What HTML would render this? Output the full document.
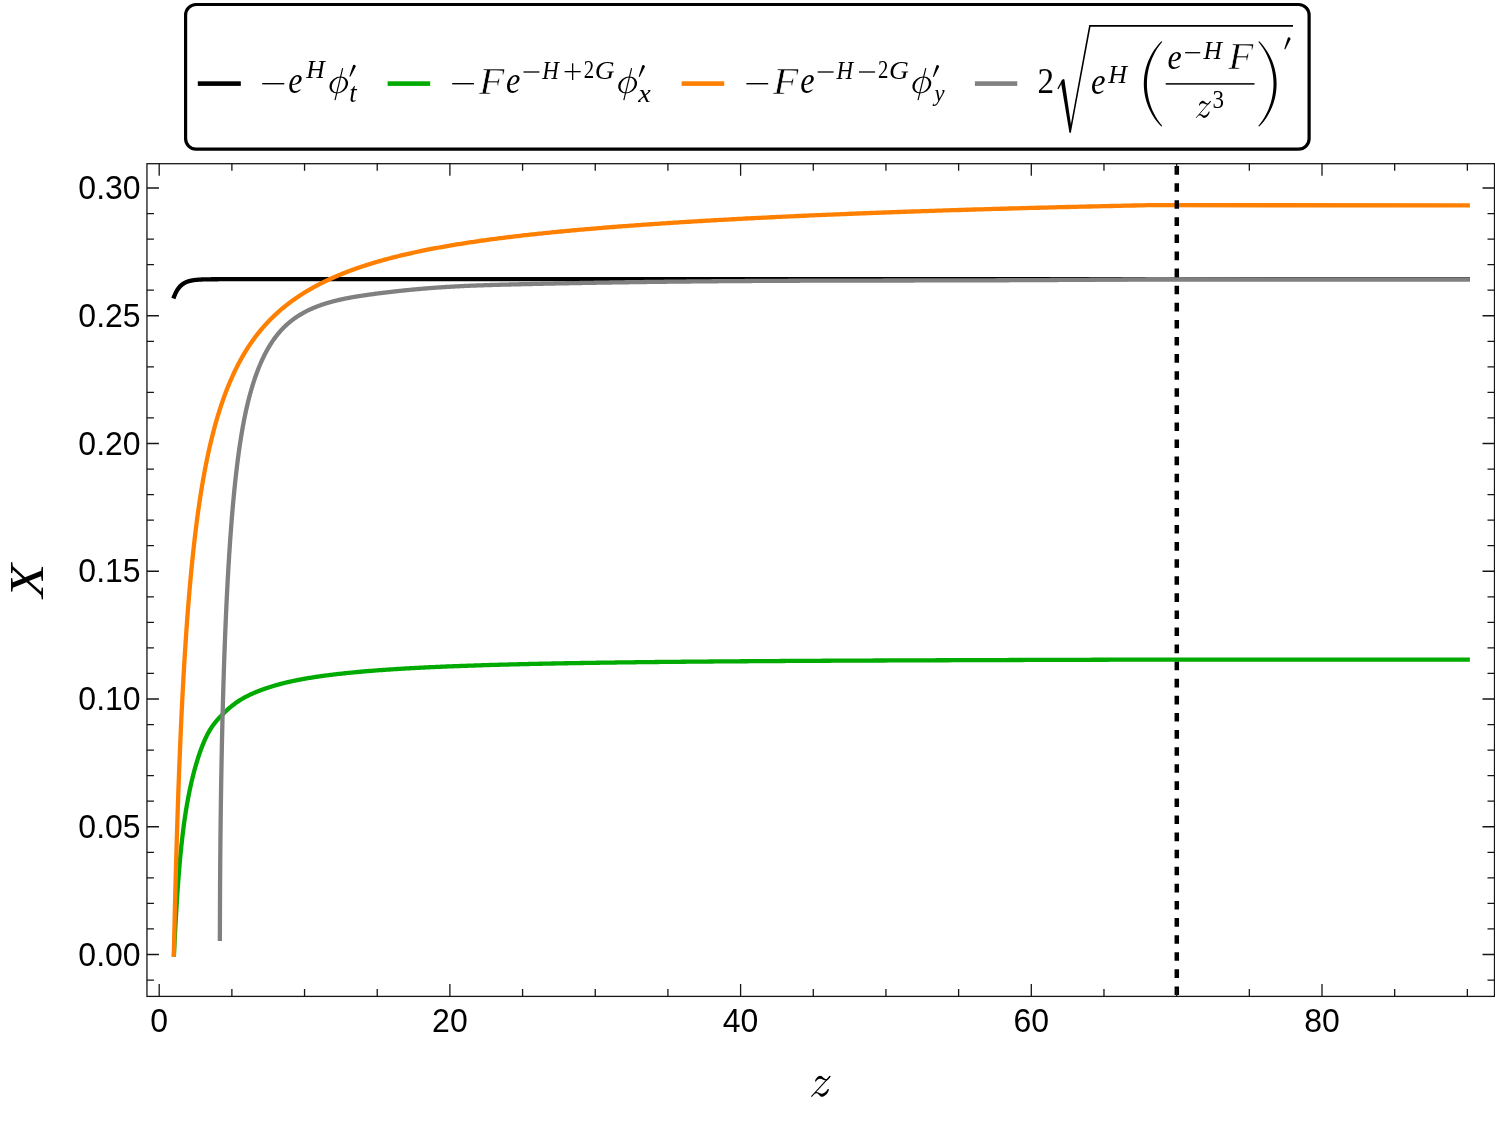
<!DOCTYPE html>
<html><head><meta charset="utf-8"><title>plot</title>
<style>
html,body{margin:0;padding:0;background:#fff;}
body{width:1495px;height:1121px;position:relative;overflow:hidden;font-family:"Liberation Sans",sans-serif;}
</style></head><body>
<svg width="1495" height="1121" viewBox="0 0 1495 1121" style="position:absolute;left:0;top:0;will-change:transform">
<rect x="0" y="0" width="1495" height="1121" fill="#fff"/>
<g fill="none" stroke-width="4.3" stroke-linejoin="round" stroke-linecap="butt">
<path d="M173.40,298.40 L173.84,297.21 L174.27,296.09 L174.71,295.05 L175.14,294.06 L175.58,293.14 L176.01,292.28 L176.45,291.47 L176.88,290.71 L177.32,289.99 L177.75,289.32 L178.19,288.70 L178.62,288.11 L179.06,287.56 L179.49,287.04 L179.93,286.55 L180.36,286.10 L180.80,285.67 L181.23,285.27 L181.67,284.89 L182.10,284.54 L182.54,284.21 L182.97,283.90 L183.41,283.61 L183.84,283.33 L184.28,283.08 L184.71,282.84 L185.15,282.61 L185.58,282.40 L186.02,282.20 L186.46,282.02 L186.89,281.84 L187.33,281.68 L187.76,281.52 L188.20,281.38 L188.63,281.24 L189.07,281.12 L189.50,281.00 L189.94,280.89 L190.37,280.78 L190.81,280.68 L191.24,280.59 L191.68,280.51 L192.11,280.43 L192.55,280.35 L192.98,280.28 L193.42,280.21 L193.85,280.15 L194.29,280.09 L194.72,280.03 L195.16,279.98 L195.59,279.93 L196.03,279.89 L196.46,279.85 L196.90,279.81 L197.33,279.77 L197.77,279.73 L198.21,279.70 L198.64,279.67 L199.08,279.64 L199.51,279.61 L199.95,279.59 L200.38,279.56 L200.82,279.54 L201.25,279.52 L201.69,279.50 L202.12,279.48 L202.56,279.46 L202.99,279.45 L203.43,279.43 L203.86,279.42 L204.30,279.40 L204.73,279.39 L205.17,279.38 L205.60,279.37 L206.04,279.36 L206.47,279.35 L206.91,279.34 L207.34,279.33 L207.78,279.32 L208.21,279.31 L208.65,279.31 L209.08,279.30 L209.52,279.29 L209.95,279.29 L210.39,279.28 L210.83,279.28 L211.26,279.27 L211.70,279.27 L212.13,279.26 L212.57,279.26 L213.00,279.26 L213.44,279.25 L213.87,279.25 L214.31,279.25 L214.74,279.24 L215.18,279.24 L215.61,279.24 L216.05,279.24 L216.48,279.23 L216.92,279.23 L217.35,279.23 L217.79,279.23 L218.22,279.23 L218.66,279.22 L219.09,279.22 L219.53,279.22 L219.96,279.22 L220.40,279.22 L220.83,279.22 L221.27,279.22 L221.70,279.22 L222.14,279.21 L222.57,279.21 L223.01,279.21 L223.45,279.21 L223.88,279.21 L224.32,279.21 L224.75,279.21 L225.19,279.21 L225.62,279.21 L226.06,279.21 L226.49,279.21 L226.93,279.21 L227.36,279.21 L227.80,279.21 L228.23,279.21 L228.67,279.21 L229.10,279.21 L229.54,279.20 L229.97,279.20 L230.41,279.20 L230.84,279.20 L231.28,279.20 L231.71,279.20 L232.15,279.20 L232.58,279.20 L233.02,279.20 L233.45,279.20 L233.89,279.20 L234.32,279.20 L234.76,279.20 L235.19,279.20 L235.63,279.20 L236.07,279.20 L236.50,279.20 L236.94,279.20 L237.37,279.20 L237.81,279.20 L238.24,279.20 L238.68,279.20 L239.11,279.20 L239.55,279.20 L239.98,279.20 L240.42,279.20 L240.85,279.20 L241.29,279.20 L241.72,279.20 L242.16,279.20 L242.59,279.20 L243.03,279.20 L243.46,279.20 L243.90,279.20 L244.33,279.20 L244.77,279.20 L245.20,279.20 L245.64,279.20 L246.07,279.20 L246.51,279.20 L246.94,279.20 L247.38,279.20 L247.82,279.20 L248.25,279.20 L248.69,279.20 L249.12,279.20 L249.56,279.20 L249.99,279.20 L250.43,279.20 L250.86,279.20 L251.30,279.20 L251.73,279.20 L252.17,279.20 L252.60,279.20 L253.04,279.20 L253.47,279.20 L253.91,279.20 L254.34,279.20 L254.78,279.20 L255.21,279.20 L255.65,279.20 L256.08,279.20 L256.52,279.20 L256.95,279.20 L257.39,279.20 L257.82,279.20 L258.26,279.20 L258.69,279.20 L259.13,279.20 L259.56,279.20 L260.00,279.20 L1469.90,279.20" stroke="#000"/>
<path d="M173.89,956.60 L173.96,955.17 L174.03,953.65 L174.10,952.13 L174.17,950.62 L174.24,949.12 L174.31,947.62 L174.38,946.13 L174.46,944.65 L174.53,943.17 L174.60,941.69 L174.67,940.23 L174.74,938.76 L174.82,937.31 L174.89,935.86 L174.96,934.42 L175.04,932.98 L175.11,931.55 L175.19,930.12 L175.26,928.70 L175.34,927.29 L175.41,925.88 L175.49,924.48 L175.57,923.09 L175.64,921.70 L175.72,920.32 L175.80,918.94 L175.87,917.57 L175.95,916.21 L176.03,914.85 L176.11,913.50 L176.19,912.15 L176.27,910.82 L176.35,909.48 L176.43,908.16 L176.51,906.83 L176.59,905.52 L176.67,904.21 L176.76,902.91 L176.84,901.61 L176.92,900.32 L177.00,899.04 L177.09,897.76 L177.17,896.49 L177.26,895.23 L177.34,893.97 L177.43,892.72 L177.51,891.47 L177.60,890.23 L177.68,889.00 L177.77,887.77 L177.86,886.55 L177.94,885.33 L178.03,884.13 L178.12,882.92 L178.21,881.73 L178.30,880.54 L178.39,879.36 L178.48,878.18 L178.57,877.01 L178.66,875.84 L178.75,874.69 L178.84,873.53 L178.94,872.39 L179.03,871.25 L179.12,870.12 L179.21,868.99 L179.31,867.87 L179.40,866.76 L179.50,865.65 L179.59,864.55 L179.69,863.45 L179.78,862.37 L179.88,861.29 L179.98,860.21 L180.08,859.14 L180.17,858.08 L180.27,857.02 L180.37,855.97 L180.47,854.93 L180.57,853.89 L180.67,852.86 L180.77,851.84 L180.87,850.82 L180.97,849.81 L181.08,848.80 L181.18,847.80 L181.28,846.80 L181.39,845.82 L181.49,844.83 L181.59,843.86 L181.70,842.89 L181.81,841.92 L181.91,840.96 L182.02,840.01 L182.12,839.06 L182.23,838.12 L182.34,837.18 L182.45,836.25 L182.56,835.32 L182.67,834.40 L182.78,833.48 L182.89,832.57 L183.00,831.67 L183.11,830.77 L183.22,829.87 L183.34,828.99 L183.45,828.10 L183.56,827.22 L183.68,826.35 L183.79,825.48 L183.91,824.61 L184.02,823.76 L184.14,822.90 L184.26,822.05 L184.37,821.21 L184.49,820.37 L184.61,819.53 L184.73,818.70 L184.85,817.87 L184.97,817.05 L185.09,816.24 L185.21,815.42 L185.34,814.61 L185.46,813.81 L185.58,813.01 L185.71,812.22 L185.83,811.43 L185.95,810.64 L186.08,809.86 L186.21,809.08 L186.33,808.30 L186.46,807.53 L186.59,806.77 L186.72,806.01 L186.85,805.25 L186.98,804.49 L187.11,803.74 L187.24,803.00 L187.37,802.25 L187.50,801.51 L187.63,800.78 L187.77,800.05 L187.90,799.32 L188.04,798.59 L188.17,797.87 L188.31,797.15 L188.44,796.44 L188.58,795.73 L188.72,795.02 L188.86,794.32 L189.00,793.61 L189.14,792.92 L189.28,792.22 L189.42,791.53 L189.56,790.84 L189.70,790.16 L189.84,789.47 L189.99,788.79 L190.13,788.12 L190.28,787.44 L190.42,786.77 L190.57,786.10 L190.72,785.44 L190.87,784.78 L191.01,784.12 L191.16,783.46 L191.31,782.80 L191.46,782.15 L191.62,781.50 L191.77,780.85 L191.92,780.21 L192.07,779.57 L192.23,778.93 L192.38,778.29 L192.54,777.65 L192.70,777.02 L192.85,776.39 L193.01,775.76 L193.17,775.13 L193.33,774.50 L193.49,773.88 L193.65,773.26 L193.81,772.64 L193.97,772.02 L194.14,771.41 L194.30,770.79 L194.47,770.18 L194.63,769.57 L194.80,768.97 L194.96,768.36 L195.13,767.76 L195.30,767.16 L195.47,766.56 L195.64,765.96 L195.81,765.37 L195.98,764.78 L196.16,764.19 L196.33,763.60 L196.50,763.01 L196.68,762.43 L196.85,761.85 L197.03,761.27 L197.21,760.69 L197.39,760.12 L197.57,759.54 L197.75,758.97 L197.93,758.40 L198.11,757.83 L198.29,757.27 L198.47,756.71 L198.66,756.15 L198.84,755.59 L199.03,755.03 L199.22,754.48 L199.40,753.92 L199.59,753.37 L199.78,752.83 L199.97,752.28 L200.16,751.74 L200.36,751.20 L200.55,750.66 L200.74,750.12 L200.94,749.58 L201.13,749.05 L201.33,748.52 L201.53,747.99 L201.73,747.47 L201.93,746.94 L202.13,746.42 L202.33,745.90 L202.53,745.39 L202.73,744.87 L202.94,744.36 L203.14,743.85 L203.35,743.35 L203.56,742.85 L203.77,742.35 L203.97,741.85 L204.19,741.36 L204.40,740.87 L204.61,740.38 L204.82,739.90 L205.04,739.42 L205.25,738.94 L205.47,738.47 L205.68,738.00 L205.90,737.53 L206.12,737.07 L206.34,736.61 L206.56,736.16 L206.78,735.71 L207.01,735.26 L207.23,734.82 L207.46,734.38 L207.68,733.95 L207.91,733.52 L208.14,733.09 L208.37,732.67 L208.60,732.25 L208.83,731.84 L209.06,731.43 L209.30,731.03 L209.53,730.63 L209.77,730.24 L210.01,729.85 L210.25,729.46 L210.49,729.07 L210.73,728.69 L210.97,728.32 L211.21,727.95 L211.45,727.58 L211.70,727.21 L211.95,726.85 L212.19,726.49 L212.44,726.13 L212.69,725.78 L212.94,725.43 L213.20,725.08 L213.45,724.74 L213.70,724.40 L213.96,724.06 L214.22,723.72 L214.47,723.39 L214.73,723.06 L214.99,722.73 L215.26,722.40 L215.52,722.08 L215.78,721.75 L216.05,721.43 L216.32,721.11 L216.58,720.80 L216.85,720.48 L217.12,720.17 L217.40,719.86 L217.67,719.55 L217.94,719.24 L218.22,718.93 L218.50,718.63 L218.77,718.32 L219.05,718.02 L219.33,717.71 L219.62,717.41 L219.90,717.11 L220.18,716.81 L220.47,716.51 L220.76,716.21 L221.05,715.92 L221.34,715.62 L221.63,715.32 L221.92,715.02 L222.22,714.73 L222.51,714.43 L222.81,714.13 L223.11,713.84 L223.41,713.54 L223.71,713.25 L224.01,712.95 L224.31,712.65 L224.62,712.36 L224.93,712.07 L225.24,711.77 L225.55,711.48 L225.86,711.18 L226.17,710.89 L226.48,710.60 L226.80,710.31 L227.12,710.02 L227.44,709.73 L227.76,709.44 L228.08,709.15 L228.40,708.87 L228.73,708.58 L229.05,708.29 L229.38,708.01 L229.71,707.73 L230.04,707.45 L230.37,707.16 L230.71,706.89 L231.04,706.61 L231.38,706.33 L231.72,706.05 L232.06,705.78 L232.40,705.51 L232.74,705.24 L233.09,704.97 L233.43,704.70 L233.78,704.43 L234.13,704.17 L234.48,703.91 L234.84,703.64 L235.19,703.38 L235.55,703.13 L235.91,702.87 L236.27,702.62 L236.63,702.36 L236.99,702.11 L237.36,701.87 L237.72,701.62 L238.09,701.37 L238.46,701.13 L238.83,700.89 L239.21,700.65 L239.58,700.41 L239.96,700.17 L240.34,699.94 L240.72,699.70 L241.10,699.47 L241.49,699.24 L241.87,699.01 L242.26,698.78 L242.65,698.56 L243.04,698.33 L243.44,698.11 L243.83,697.89 L244.23,697.67 L244.63,697.45 L245.03,697.23 L245.43,697.01 L245.84,696.80 L246.24,696.59 L246.65,696.37 L247.06,696.16 L247.47,695.95 L247.89,695.75 L248.30,695.54 L248.72,695.33 L249.14,695.13 L249.56,694.93 L249.99,694.72 L250.41,694.52 L250.84,694.32 L251.27,694.13 L251.70,693.93 L252.14,693.73 L252.57,693.54 L253.01,693.34 L253.45,693.15 L253.89,692.96 L254.34,692.77 L254.79,692.58 L255.23,692.39 L255.68,692.20 L256.14,692.01 L256.59,691.83 L257.05,691.64 L257.51,691.46 L257.97,691.28 L258.43,691.09 L258.90,690.91 L259.37,690.73 L259.84,690.55 L260.31,690.37 L260.78,690.20 L261.26,690.02 L261.74,689.84 L262.22,689.67 L262.70,689.49 L263.19,689.32 L263.68,689.14 L264.17,688.97 L264.66,688.80 L265.15,688.63 L265.65,688.46 L266.15,688.28 L266.65,688.11 L267.16,687.95 L267.66,687.78 L268.17,687.61 L268.68,687.44 L269.20,687.28 L269.71,687.11 L270.23,686.95 L270.75,686.78 L271.28,686.62 L271.80,686.45 L272.33,686.29 L272.86,686.13 L273.40,685.97 L273.93,685.81 L274.47,685.65 L275.01,685.49 L275.55,685.34 L276.10,685.18 L276.65,685.02 L277.20,684.87 L277.75,684.71 L278.31,684.56 L278.87,684.41 L279.43,684.25 L279.99,684.10 L280.56,683.95 L281.13,683.80 L281.70,683.65 L282.28,683.51 L282.85,683.36 L283.43,683.21 L284.02,683.07 L284.60,682.92 L285.19,682.78 L285.78,682.64 L286.38,682.50 L286.97,682.35 L287.57,682.21 L288.18,682.07 L288.78,681.94 L289.39,681.80 L290.00,681.66 L290.61,681.52 L291.23,681.39 L291.85,681.25 L292.47,681.12 L293.10,680.98 L293.73,680.85 L294.36,680.72 L294.99,680.59 L295.63,680.46 L296.27,680.33 L296.91,680.20 L297.56,680.07 L298.21,679.94 L298.86,679.82 L299.51,679.69 L300.17,679.56 L300.83,679.44 L301.50,679.32 L302.17,679.19 L302.84,679.07 L303.51,678.95 L304.19,678.83 L304.87,678.71 L305.55,678.59 L306.24,678.47 L306.93,678.35 L307.62,678.23 L308.32,678.11 L309.02,677.99 L309.72,677.88 L310.43,677.76 L311.14,677.65 L311.85,677.53 L312.57,677.42 L313.29,677.31 L314.01,677.20 L314.74,677.08 L315.47,676.97 L316.20,676.86 L316.94,676.75 L317.68,676.64 L318.42,676.53 L319.17,676.43 L319.92,676.32 L320.67,676.21 L321.43,676.10 L322.19,676.00 L322.95,675.89 L323.72,675.79 L324.49,675.68 L325.27,675.58 L326.05,675.48 L326.83,675.37 L327.62,675.27 L328.41,675.17 L329.20,675.07 L330.00,674.97 L330.80,674.87 L331.61,674.77 L332.42,674.67 L333.23,674.57 L334.05,674.48 L334.87,674.38 L335.69,674.28 L336.52,674.18 L337.35,674.09 L338.19,673.99 L339.03,673.90 L339.87,673.80 L340.72,673.71 L341.57,673.62 L342.43,673.52 L343.29,673.43 L344.15,673.34 L345.02,673.25 L345.89,673.15 L346.77,673.06 L347.65,672.97 L348.53,672.88 L349.42,672.79 L350.31,672.70 L351.21,672.62 L352.11,672.53 L353.01,672.44 L353.92,672.35 L354.84,672.27 L355.75,672.18 L356.68,672.09 L357.60,672.01 L358.53,671.92 L359.47,671.84 L360.41,671.75 L361.35,671.67 L362.30,671.59 L363.25,671.50 L364.21,671.42 L365.17,671.34 L366.14,671.26 L367.11,671.18 L368.09,671.09 L369.07,671.01 L370.05,670.93 L371.04,670.85 L372.04,670.78 L373.03,670.70 L374.04,670.62 L375.05,670.54 L376.06,670.46 L377.08,670.39 L378.10,670.31 L379.13,670.23 L380.16,670.16 L381.19,670.08 L382.24,670.01 L383.28,669.93 L384.33,669.86 L385.39,669.78 L386.45,669.71 L387.52,669.64 L388.59,669.56 L389.67,669.49 L390.75,669.42 L391.83,669.35 L392.93,669.28 L394.02,669.21 L395.12,669.14 L396.23,669.07 L397.34,669.00 L398.46,668.93 L399.58,668.86 L400.71,668.79 L401.84,668.72 L402.98,668.66 L404.13,668.59 L405.28,668.52 L406.43,668.45 L407.59,668.39 L408.76,668.32 L409.93,668.26 L411.10,668.19 L412.29,668.13 L413.47,668.06 L414.67,668.00 L415.87,667.94 L417.07,667.87 L418.28,667.81 L419.50,667.75 L420.72,667.69 L421.94,667.62 L423.18,667.56 L424.42,667.50 L425.66,667.44 L426.91,667.38 L428.17,667.32 L429.43,667.26 L430.70,667.20 L431.97,667.14 L433.25,667.08 L434.54,667.03 L435.83,666.97 L437.13,666.91 L438.43,666.85 L439.74,666.80 L441.06,666.74 L442.38,666.68 L443.71,666.63 L445.04,666.57 L446.38,666.52 L447.73,666.46 L449.09,666.41 L450.45,666.35 L451.81,666.30 L453.19,666.25 L454.56,666.19 L455.95,666.14 L457.34,666.09 L458.74,666.04 L460.15,665.98 L461.56,665.93 L462.98,665.88 L464.40,665.83 L465.84,665.78 L467.27,665.73 L468.72,665.68 L470.17,665.63 L471.63,665.58 L473.10,665.53 L474.57,665.48 L476.05,665.43 L477.54,665.39 L479.03,665.34 L480.53,665.29 L482.04,665.24 L483.55,665.20 L485.08,665.15 L486.61,665.10 L488.14,665.06 L489.69,665.01 L491.24,664.97 L492.79,664.92 L494.36,664.88 L495.93,664.83 L497.51,664.79 L499.10,664.74 L500.69,664.70 L502.30,664.66 L503.91,664.61 L505.52,664.57 L507.15,664.53 L508.78,664.49 L510.42,664.44 L512.07,664.40 L513.73,664.36 L515.39,664.32 L517.06,664.28 L518.74,664.24 L520.43,664.20 L522.12,664.16 L523.83,664.12 L525.54,664.08 L527.26,664.04 L528.98,664.00 L530.72,663.96 L532.46,663.92 L534.21,663.88 L535.97,663.85 L537.74,663.81 L539.52,663.77 L541.30,663.73 L543.09,663.70 L544.89,663.66 L546.70,663.62 L548.52,663.59 L550.35,663.55 L552.18,663.52 L554.03,663.48 L555.88,663.45 L557.74,663.41 L559.61,663.38 L561.49,663.34 L563.38,663.31 L565.28,663.27 L567.18,663.24 L569.10,663.21 L571.02,663.17 L572.95,663.14 L574.89,663.11 L576.84,663.07 L578.80,663.04 L580.77,663.01 L582.75,662.98 L584.74,662.95 L586.73,662.91 L588.74,662.88 L590.76,662.85 L592.78,662.82 L594.82,662.79 L596.86,662.76 L598.91,662.73 L600.98,662.70 L603.05,662.67 L605.13,662.64 L607.22,662.61 L609.33,662.58 L611.44,662.55 L613.56,662.53 L615.69,662.50 L617.83,662.47 L619.99,662.44 L622.15,662.41 L624.32,662.39 L626.50,662.36 L628.70,662.33 L630.90,662.30 L633.11,662.28 L635.34,662.25 L637.57,662.22 L639.81,662.20 L642.07,662.17 L644.34,662.15 L646.61,662.12 L648.90,662.09 L651.20,662.07 L653.51,662.04 L655.83,662.02 L658.16,661.99 L660.50,661.97 L662.85,661.94 L665.21,661.92 L667.59,661.90 L669.97,661.87 L672.37,661.85 L674.78,661.82 L677.20,661.80 L679.63,661.78 L682.07,661.76 L684.52,661.73 L686.99,661.71 L689.46,661.69 L691.95,661.66 L694.45,661.64 L696.96,661.62 L699.49,661.60 L702.02,661.58 L704.57,661.55 L707.13,661.53 L709.70,661.51 L712.28,661.49 L714.88,661.47 L717.48,661.45 L720.10,661.43 L722.74,661.41 L725.38,661.39 L728.04,661.37 L730.71,661.35 L733.39,661.33 L736.08,661.31 L738.79,661.29 L741.51,661.27 L744.24,661.25 L746.99,661.23 L749.74,661.21 L752.51,661.19 L755.30,661.17 L758.10,661.15 L760.91,661.13 L763.73,661.12 L766.57,661.10 L769.42,661.08 L772.28,661.06 L775.16,661.04 L778.05,661.03 L780.95,661.01 L783.87,660.99 L786.80,660.97 L789.74,660.96 L792.70,660.94 L795.67,660.92 L798.66,660.90 L801.66,660.89 L804.68,660.87 L807.70,660.85 L810.75,660.84 L813.81,660.82 L816.88,660.80 L819.96,660.79 L823.06,660.77 L826.18,660.75 L829.31,660.74 L832.45,660.72 L835.61,660.71 L838.79,660.69 L841.97,660.68 L845.18,660.66 L848.40,660.64 L851.63,660.63 L854.88,660.61 L858.14,660.60 L861.42,660.58 L864.72,660.57 L868.03,660.55 L871.35,660.54 L874.70,660.52 L878.05,660.51 L881.43,660.49 L884.82,660.48 L888.22,660.47 L891.64,660.45 L895.08,660.44 L898.53,660.42 L902.00,660.41 L905.49,660.39 L908.99,660.38 L912.51,660.37 L916.04,660.35 L919.59,660.34 L923.16,660.33 L926.74,660.31 L930.35,660.30 L933.96,660.28 L937.60,660.27 L941.25,660.26 L944.92,660.24 L948.61,660.23 L952.31,660.22 L956.03,660.20 L959.77,660.19 L963.53,660.18 L967.30,660.16 L971.10,660.15 L974.91,660.14 L978.73,660.13 L982.58,660.11 L986.44,660.10 L990.32,660.09 L994.22,660.07 L998.14,660.06 L1002.08,660.05 L1006.03,660.04 L1010.01,660.02 L1014.00,660.01 L1018.01,660.00 L1022.04,659.98 L1026.09,659.97 L1030.16,659.96 L1034.24,659.95 L1038.35,659.93 L1042.47,659.92 L1046.62,659.91 L1050.78,659.90 L1054.97,659.89 L1059.17,659.87 L1063.39,659.86 L1067.63,659.85 L1071.90,659.84 L1076.18,659.82 L1080.48,659.81 L1084.81,659.80 L1089.15,659.79 L1093.51,659.77 L1097.90,659.76 L1102.30,659.75 L1106.73,659.74 L1111.17,659.72 L1115.64,659.71 L1120.13,659.70 L1124.64,659.69 L1129.17,659.68 L1133.72,659.66 L1138.29,659.65 L1142.88,659.64 L1147.50,659.63 L1469.90,659.70" stroke="#00aa00"/>
<path d="M173.79,956.80 L173.86,953.90 L173.93,950.73 L174.00,947.57 L174.07,944.43 L174.14,941.29 L174.21,938.17 L174.28,935.06 L174.35,931.97 L174.42,928.88 L174.49,925.81 L174.57,922.75 L174.64,919.70 L174.71,916.67 L174.78,913.64 L174.86,910.63 L174.93,907.63 L175.00,904.64 L175.08,901.67 L175.15,898.70 L175.23,895.75 L175.30,892.81 L175.38,889.88 L175.45,886.97 L175.53,884.06 L175.61,881.17 L175.69,878.29 L175.76,875.42 L175.84,872.56 L175.92,869.72 L176.00,866.88 L176.08,864.06 L176.16,861.25 L176.24,858.45 L176.32,855.66 L176.40,852.88 L176.48,850.11 L176.56,847.36 L176.64,844.61 L176.72,841.88 L176.80,839.16 L176.89,836.45 L176.97,833.75 L177.05,831.06 L177.14,828.38 L177.22,825.72 L177.31,823.06 L177.39,820.42 L177.48,817.79 L177.56,815.16 L177.65,812.55 L177.74,809.95 L177.82,807.36 L177.91,804.78 L178.00,802.22 L178.09,799.66 L178.18,797.11 L178.26,794.57 L178.35,792.05 L178.44,789.53 L178.53,787.03 L178.63,784.53 L178.72,782.05 L178.81,779.58 L178.90,777.11 L178.99,774.66 L179.09,772.22 L179.18,769.79 L179.27,767.37 L179.37,764.95 L179.46,762.55 L179.56,760.16 L179.65,757.78 L179.75,755.41 L179.85,753.05 L179.94,750.70 L180.04,748.35 L180.14,746.02 L180.24,743.70 L180.34,741.39 L180.44,739.09 L180.54,736.80 L180.64,734.51 L180.74,732.24 L180.84,729.98 L180.94,727.72 L181.04,725.48 L181.14,723.25 L181.25,721.02 L181.35,718.81 L181.45,716.60 L181.56,714.41 L181.66,712.22 L181.77,710.04 L181.88,707.87 L181.98,705.72 L182.09,703.57 L182.20,701.43 L182.31,699.29 L182.41,697.17 L182.52,695.06 L182.63,692.96 L182.74,690.86 L182.85,688.78 L182.96,686.70 L183.08,684.63 L183.19,682.57 L183.30,680.52 L183.41,678.48 L183.53,676.45 L183.64,674.43 L183.76,672.41 L183.87,670.41 L183.99,668.41 L184.11,666.42 L184.22,664.44 L184.34,662.47 L184.46,660.51 L184.58,658.56 L184.70,656.61 L184.82,654.67 L184.94,652.74 L185.06,650.82 L185.18,648.91 L185.30,647.01 L185.42,645.11 L185.55,643.23 L185.67,641.35 L185.80,639.48 L185.92,637.61 L186.05,635.76 L186.17,633.91 L186.30,632.07 L186.43,630.24 L186.55,628.42 L186.68,626.61 L186.81,624.80 L186.94,623.00 L187.07,621.21 L187.20,619.43 L187.34,617.65 L187.47,615.88 L187.60,614.12 L187.73,612.37 L187.87,610.63 L188.00,608.89 L188.14,607.16 L188.27,605.44 L188.41,603.72 L188.55,602.01 L188.69,600.32 L188.82,598.62 L188.96,596.94 L189.10,595.26 L189.24,593.59 L189.39,591.93 L189.53,590.27 L189.67,588.62 L189.81,586.98 L189.96,585.35 L190.10,583.72 L190.25,582.10 L190.39,580.48 L190.54,578.88 L190.69,577.28 L190.83,575.69 L190.98,574.10 L191.13,572.52 L191.28,570.95 L191.43,569.38 L191.58,567.83 L191.74,566.27 L191.89,564.73 L192.04,563.19 L192.20,561.66 L192.35,560.13 L192.51,558.61 L192.67,557.10 L192.82,555.59 L192.98,554.10 L193.14,552.60 L193.30,551.12 L193.46,549.64 L193.62,548.16 L193.78,546.69 L193.94,545.23 L194.11,543.78 L194.27,542.33 L194.44,540.89 L194.60,539.45 L194.77,538.02 L194.94,536.60 L195.10,535.18 L195.27,533.77 L195.44,532.36 L195.61,530.96 L195.78,529.57 L195.96,528.18 L196.13,526.80 L196.30,525.42 L196.48,524.05 L196.65,522.69 L196.83,521.33 L197.00,519.98 L197.18,518.63 L197.36,517.29 L197.54,515.96 L197.72,514.63 L197.90,513.31 L198.08,511.99 L198.27,510.68 L198.45,509.37 L198.63,508.07 L198.82,506.78 L199.01,505.49 L199.19,504.20 L199.38,502.92 L199.57,501.65 L199.76,500.38 L199.95,499.12 L200.14,497.87 L200.33,496.62 L200.53,495.37 L200.72,494.13 L200.92,492.90 L201.11,491.67 L201.31,490.44 L201.51,489.22 L201.71,488.01 L201.91,486.80 L202.11,485.60 L202.31,484.40 L202.51,483.21 L202.71,482.02 L202.92,480.84 L203.12,479.66 L203.33,478.48 L203.54,477.32 L203.75,476.15 L203.96,475.00 L204.17,473.84 L204.38,472.70 L204.59,471.55 L204.80,470.41 L205.02,469.28 L205.23,468.15 L205.45,467.03 L205.67,465.91 L205.89,464.80 L206.10,463.69 L206.33,462.58 L206.55,461.48 L206.77,460.39 L206.99,459.29 L207.22,458.21 L207.44,457.13 L207.67,456.05 L207.90,454.98 L208.13,453.91 L208.36,452.84 L208.59,451.79 L208.82,450.73 L209.05,449.68 L209.29,448.63 L209.52,447.59 L209.76,446.55 L210.00,445.52 L210.24,444.49 L210.48,443.47 L210.72,442.45 L210.96,441.43 L211.20,440.42 L211.45,439.41 L211.69,438.41 L211.94,437.41 L212.19,436.41 L212.44,435.42 L212.69,434.43 L212.94,433.45 L213.19,432.47 L213.44,431.49 L213.70,430.52 L213.95,429.55 L214.21,428.59 L214.47,427.63 L214.73,426.67 L214.99,425.72 L215.25,424.77 L215.52,423.82 L215.78,422.88 L216.05,421.95 L216.31,421.01 L216.58,420.08 L216.85,419.15 L217.12,418.23 L217.40,417.31 L217.67,416.39 L217.94,415.48 L218.22,414.57 L218.50,413.67 L218.78,412.76 L219.06,411.87 L219.34,410.97 L219.62,410.08 L219.90,409.19 L220.19,408.30 L220.48,407.42 L220.76,406.54 L221.05,405.67 L221.34,404.80 L221.64,403.93 L221.93,403.06 L222.22,402.20 L222.52,401.34 L222.82,400.48 L223.12,399.63 L223.42,398.78 L223.72,397.94 L224.02,397.09 L224.33,396.25 L224.63,395.42 L224.94,394.59 L225.25,393.76 L225.56,392.93 L225.87,392.11 L226.19,391.29 L226.50,390.47 L226.82,389.65 L227.14,388.84 L227.45,388.04 L227.78,387.23 L228.10,386.43 L228.42,385.63 L228.75,384.84 L229.07,384.04 L229.40,383.25 L229.73,382.47 L230.06,381.69 L230.40,380.91 L230.73,380.13 L231.07,379.36 L231.41,378.58 L231.74,377.82 L232.09,377.05 L232.43,376.29 L232.77,375.53 L233.12,374.78 L233.47,374.02 L233.81,373.27 L234.17,372.53 L234.52,371.78 L234.87,371.04 L235.23,370.31 L235.58,369.57 L235.94,368.84 L236.30,368.11 L236.67,367.38 L237.03,366.66 L237.40,365.94 L237.76,365.22 L238.13,364.51 L238.50,363.80 L238.88,363.09 L239.25,362.38 L239.63,361.68 L240.01,360.98 L240.39,360.28 L240.77,359.59 L241.15,358.90 L241.54,358.21 L241.92,357.52 L242.31,356.84 L242.70,356.16 L243.09,355.48 L243.49,354.81 L243.88,354.13 L244.28,353.46 L244.68,352.80 L245.08,352.13 L245.49,351.47 L245.89,350.81 L246.30,350.16 L246.71,349.51 L247.12,348.86 L247.54,348.21 L247.95,347.56 L248.37,346.92 L248.79,346.28 L249.21,345.64 L249.63,345.01 L250.06,344.38 L250.48,343.75 L250.91,343.12 L251.34,342.50 L251.78,341.88 L252.21,341.26 L252.65,340.64 L253.09,340.03 L253.53,339.42 L253.97,338.81 L254.42,338.20 L254.86,337.60 L255.31,337.00 L255.77,336.40 L256.22,335.80 L256.68,335.21 L257.13,334.62 L257.59,334.03 L258.06,333.44 L258.52,332.86 L258.99,332.28 L259.46,331.70 L259.93,331.12 L260.40,330.55 L260.88,329.98 L261.36,329.41 L261.84,328.84 L262.32,328.28 L262.80,327.71 L263.29,327.15 L263.78,326.60 L264.27,326.04 L264.76,325.49 L265.26,324.94 L265.76,324.39 L266.26,323.84 L266.76,323.30 L267.27,322.76 L267.78,322.22 L268.29,321.68 L268.80,321.14 L269.31,320.61 L269.83,320.08 L270.35,319.55 L270.87,319.02 L271.40,318.50 L271.93,317.98 L272.46,317.46 L272.99,316.94 L273.52,316.42 L274.06,315.91 L274.60,315.40 L275.14,314.89 L275.69,314.38 L276.24,313.88 L276.79,313.37 L277.34,312.87 L277.89,312.37 L278.45,311.88 L279.01,311.38 L279.58,310.89 L280.14,310.40 L280.71,309.91 L281.28,309.42 L281.85,308.93 L282.43,308.45 L283.01,307.97 L283.59,307.49 L284.18,307.01 L284.76,306.54 L285.35,306.06 L285.95,305.59 L286.54,305.12 L287.14,304.65 L287.74,304.19 L288.35,303.72 L288.95,303.26 L289.56,302.80 L290.18,302.34 L290.79,301.88 L291.41,301.43 L292.03,300.98 L292.66,300.52 L293.28,300.07 L293.91,299.63 L294.55,299.18 L295.18,298.74 L295.82,298.29 L296.46,297.85 L297.11,297.41 L297.76,296.97 L298.41,296.54 L299.06,296.10 L299.72,295.67 L300.38,295.24 L301.04,294.81 L301.71,294.38 L302.38,293.96 L303.05,293.53 L303.73,293.11 L304.41,292.69 L305.09,292.27 L305.78,291.85 L306.47,291.43 L307.16,291.02 L307.85,290.60 L308.55,290.19 L309.25,289.78 L309.96,289.37 L310.67,288.97 L311.38,288.56 L312.10,288.16 L312.81,287.75 L313.54,287.35 L314.26,286.95 L314.99,286.56 L315.72,286.16 L316.46,285.77 L317.20,285.37 L317.94,284.98 L318.69,284.59 L319.44,284.20 L320.19,283.82 L320.95,283.43 L321.71,283.05 L322.47,282.67 L323.24,282.28 L324.01,281.91 L324.78,281.53 L325.56,281.15 L326.34,280.78 L327.13,280.40 L327.92,280.03 L328.71,279.66 L329.51,279.29 L330.31,278.92 L331.11,278.56 L331.92,278.19 L332.73,277.83 L333.55,277.47 L334.37,277.11 L335.19,276.75 L336.02,276.39 L336.85,276.04 L337.68,275.68 L338.52,275.33 L339.36,274.98 L340.21,274.63 L341.06,274.28 L341.92,273.93 L342.78,273.58 L343.64,273.24 L344.51,272.89 L345.38,272.55 L346.25,272.21 L347.13,271.87 L348.01,271.53 L348.90,271.20 L349.79,270.86 L350.69,270.53 L351.59,270.19 L352.49,269.86 L353.40,269.53 L354.31,269.20 L355.23,268.88 L356.15,268.55 L357.08,268.23 L358.01,267.90 L358.94,267.58 L359.88,267.26 L360.82,266.94 L361.77,266.62 L362.72,266.31 L363.68,265.99 L364.64,265.68 L365.61,265.36 L366.58,265.05 L367.55,264.74 L368.53,264.43 L369.52,264.12 L370.50,263.82 L371.50,263.51 L372.49,263.21 L373.50,262.90 L374.50,262.60 L375.52,262.30 L376.53,262.00 L377.55,261.70 L378.58,261.41 L379.61,261.11 L380.65,260.82 L381.69,260.52 L382.73,260.23 L383.78,259.94 L384.84,259.65 L385.90,259.36 L386.97,259.07 L388.04,258.79 L389.11,258.50 L390.19,258.22 L391.28,257.93 L392.37,257.65 L393.47,257.37 L394.57,257.09 L395.67,256.81 L396.78,256.54 L397.90,256.26 L399.02,255.99 L400.15,255.71 L401.28,255.44 L402.42,255.17 L403.56,254.90 L404.71,254.63 L405.87,254.36 L407.03,254.09 L408.19,253.83 L409.36,253.56 L410.54,253.30 L411.72,253.03 L412.90,252.77 L414.10,252.51 L415.29,252.25 L416.50,251.99 L417.71,251.74 L418.92,251.48 L420.14,251.22 L421.37,250.97 L422.60,250.71 L423.84,250.46 L425.08,250.21 L426.33,249.96 L427.59,249.71 L428.85,249.46 L430.12,249.21 L431.39,248.97 L432.67,248.72 L433.96,248.48 L435.25,248.23 L436.54,247.99 L437.85,247.75 L439.16,247.51 L440.47,247.27 L441.80,247.03 L443.12,246.79 L444.46,246.56 L445.80,246.32 L447.15,246.09 L448.50,245.85 L449.86,245.62 L451.23,245.39 L452.60,245.16 L453.98,244.93 L455.36,244.70 L456.75,244.47 L458.15,244.24 L459.56,244.01 L460.97,243.79 L462.39,243.56 L463.81,243.34 L465.24,243.11 L466.68,242.89 L468.13,242.67 L469.58,242.45 L471.04,242.23 L472.50,242.01 L473.98,241.79 L475.46,241.58 L476.94,241.36 L478.44,241.14 L479.94,240.93 L481.44,240.72 L482.96,240.50 L484.48,240.29 L486.01,240.08 L487.55,239.87 L489.09,239.66 L490.64,239.45 L492.20,239.24 L493.76,239.03 L495.33,238.83 L496.91,238.62 L498.50,238.42 L500.10,238.21 L501.70,238.01 L503.31,237.81 L504.93,237.60 L506.55,237.40 L508.18,237.20 L509.82,237.00 L511.47,236.80 L513.13,236.60 L514.79,236.41 L516.46,236.21 L518.14,236.01 L519.83,235.82 L521.52,235.62 L523.23,235.43 L524.94,235.23 L526.66,235.04 L528.38,234.85 L530.12,234.66 L531.86,234.47 L533.61,234.28 L535.37,234.09 L537.14,233.90 L538.92,233.71 L540.70,233.52 L542.49,233.34 L544.30,233.15 L546.11,232.97 L547.92,232.78 L549.75,232.60 L551.59,232.41 L553.43,232.23 L555.28,232.05 L557.15,231.87 L559.02,231.69 L560.90,231.51 L562.78,231.33 L564.68,231.15 L566.59,230.97 L568.50,230.79 L570.42,230.61 L572.36,230.44 L574.30,230.26 L576.25,230.08 L578.21,229.91 L580.18,229.73 L582.16,229.56 L584.15,229.39 L586.14,229.21 L588.15,229.04 L590.17,228.87 L592.19,228.70 L594.23,228.53 L596.27,228.35 L598.33,228.18 L600.39,228.02 L602.46,227.85 L604.55,227.68 L606.64,227.51 L608.74,227.34 L610.86,227.18 L612.98,227.01 L615.11,226.84 L617.25,226.68 L619.41,226.51 L621.57,226.35 L623.74,226.18 L625.93,226.02 L628.12,225.86 L630.32,225.69 L632.54,225.53 L634.76,225.37 L637.00,225.21 L639.24,225.05 L641.50,224.89 L643.77,224.73 L646.04,224.57 L648.33,224.41 L650.63,224.25 L652.94,224.09 L655.26,223.93 L657.59,223.77 L659.94,223.62 L662.29,223.46 L664.65,223.30 L667.03,223.15 L669.42,222.99 L671.81,222.84 L674.22,222.68 L676.64,222.53 L679.08,222.37 L681.52,222.22 L683.97,222.07 L686.44,221.91 L688.92,221.76 L691.41,221.61 L693.91,221.46 L696.42,221.31 L698.95,221.16 L701.48,221.01 L704.03,220.86 L706.59,220.71 L709.17,220.56 L711.75,220.41 L714.35,220.26 L716.96,220.11 L719.58,219.97 L722.21,219.82 L724.86,219.67 L727.52,219.53 L730.19,219.38 L732.87,219.24 L735.57,219.09 L738.28,218.95 L741.00,218.80 L743.73,218.66 L746.48,218.52 L749.24,218.37 L752.02,218.23 L754.80,218.09 L757.60,217.95 L760.41,217.81 L763.24,217.67 L766.08,217.53 L768.93,217.39 L771.80,217.25 L774.68,217.11 L777.57,216.97 L780.47,216.83 L783.39,216.69 L786.33,216.56 L789.28,216.42 L792.24,216.28 L795.21,216.15 L798.20,216.01 L801.20,215.88 L804.22,215.74 L807.25,215.61 L810.30,215.47 L813.36,215.34 L816.43,215.21 L819.52,215.07 L822.63,214.94 L825.75,214.81 L828.88,214.68 L832.03,214.55 L835.19,214.42 L838.37,214.29 L841.56,214.16 L844.76,214.03 L847.99,213.90 L851.22,213.77 L854.48,213.64 L857.74,213.51 L861.03,213.38 L864.33,213.26 L867.64,213.13 L870.97,213.00 L874.32,212.88 L877.68,212.75 L881.05,212.63 L884.45,212.50 L887.85,212.38 L891.28,212.26 L894.72,212.13 L898.18,212.01 L901.65,211.89 L905.14,211.77 L908.65,211.64 L912.17,211.52 L915.71,211.40 L919.26,211.28 L922.83,211.16 L926.42,211.04 L930.03,210.92 L933.65,210.80 L937.29,210.68 L940.95,210.57 L944.62,210.45 L948.32,210.33 L952.02,210.21 L955.75,210.10 L959.49,209.98 L963.26,209.87 L967.04,209.75 L970.83,209.64 L974.65,209.52 L978.48,209.41 L982.33,209.30 L986.20,209.18 L990.09,209.07 L993.99,208.96 L997.91,208.85 L1001.86,208.73 L1005.82,208.62 L1009.80,208.51 L1013.79,208.40 L1017.81,208.29 L1021.85,208.18 L1025.90,208.07 L1029.97,207.97 L1034.07,207.86 L1038.18,207.75 L1042.31,207.64 L1046.46,207.53 L1050.63,207.43 L1054.82,207.32 L1059.03,207.22 L1063.26,207.11 L1067.51,207.01 L1071.78,206.90 L1076.07,206.80 L1080.38,206.69 L1084.71,206.59 L1089.06,206.49 L1093.43,206.39 L1097.82,206.28 L1102.23,206.18 L1106.66,206.08 L1111.11,205.98 L1115.59,205.88 L1120.08,205.78 L1124.60,205.68 L1129.14,205.58 L1133.69,205.48 L1138.27,205.38 L1142.88,205.28 L1147.50,205.19 L1469.90,205.30" stroke="#ff8000"/>
<path d="M219.86,941.10 L220.05,887.40 L220.24,860.85 L220.43,840.51 L220.62,823.45 L220.81,808.52 L221.00,795.11 L221.19,782.87 L221.39,771.57 L221.58,761.02 L221.77,751.13 L221.97,741.78 L222.16,732.92 L222.36,724.49 L222.55,716.44 L222.75,708.73 L222.95,701.33 L223.15,694.22 L223.35,687.36 L223.55,680.74 L223.75,674.34 L223.95,668.15 L224.15,662.15 L224.35,656.33 L224.55,650.67 L224.76,645.18 L224.96,639.83 L225.16,634.63 L225.37,629.56 L225.57,624.61 L225.78,619.79 L225.99,615.08 L226.20,610.48 L226.40,605.99 L226.61,601.59 L226.82,597.29 L227.03,593.08 L227.24,588.96 L227.46,584.92 L227.67,580.97 L227.88,577.09 L228.09,573.29 L228.31,569.56 L228.52,565.90 L228.74,562.31 L228.95,558.79 L229.17,555.33 L229.39,551.94 L229.61,548.60 L229.83,545.33 L230.05,542.11 L230.27,538.95 L230.49,535.84 L230.71,532.79 L230.93,529.79 L231.15,526.84 L231.38,523.93 L231.60,521.08 L231.83,518.27 L232.05,515.51 L232.28,512.79 L232.51,510.12 L232.73,507.48 L232.96,504.89 L233.19,502.34 L233.42,499.84 L233.65,497.36 L233.88,494.93 L234.12,492.54 L234.35,490.18 L234.58,487.86 L234.82,485.57 L235.05,483.31 L235.29,481.09 L235.53,478.91 L235.76,476.75 L236.00,474.63 L236.24,472.54 L236.48,470.48 L236.72,468.45 L236.96,466.44 L237.20,464.47 L237.44,462.53 L237.69,460.61 L237.93,458.72 L238.18,456.86 L238.42,455.02 L238.67,453.21 L238.92,451.42 L239.16,449.66 L239.41,447.92 L239.66,446.21 L239.91,444.52 L240.16,442.86 L240.41,441.21 L240.67,439.59 L240.92,437.99 L241.17,436.41 L241.43,434.86 L241.68,433.32 L241.94,431.81 L242.20,430.31 L242.46,428.84 L242.71,427.38 L242.97,425.95 L243.24,424.53 L243.50,423.13 L243.76,421.75 L244.02,420.38 L244.29,419.04 L244.55,417.71 L244.81,416.40 L245.08,415.10 L245.35,413.82 L245.62,412.56 L245.88,411.31 L246.15,410.08 L246.42,408.86 L246.70,407.66 L246.97,406.47 L247.24,405.30 L247.51,404.14 L247.79,402.99 L248.06,401.86 L248.34,400.74 L248.62,399.63 L248.90,398.54 L249.17,397.46 L249.45,396.39 L249.73,395.34 L250.02,394.29 L250.30,393.26 L250.58,392.24 L250.87,391.23 L251.15,390.23 L251.44,389.24 L251.72,388.27 L252.01,387.30 L252.30,386.34 L252.59,385.39 L252.88,384.46 L253.17,383.53 L253.46,382.61 L253.76,381.70 L254.05,380.80 L254.35,379.90 L254.64,379.02 L254.94,378.14 L255.24,377.28 L255.53,376.42 L255.83,375.57 L256.13,374.72 L256.44,373.89 L256.74,373.06 L257.04,372.25 L257.34,371.44 L257.65,370.63 L257.96,369.84 L258.26,369.05 L258.57,368.27 L258.88,367.50 L259.19,366.73 L259.50,365.98 L259.81,365.23 L260.13,364.48 L260.44,363.75 L260.75,363.02 L261.07,362.30 L261.39,361.58 L261.70,360.87 L262.02,360.17 L262.34,359.48 L262.66,358.79 L262.98,358.11 L263.31,357.43 L263.63,356.76 L263.96,356.10 L264.28,355.44 L264.61,354.79 L264.94,354.15 L265.26,353.51 L265.59,352.88 L265.93,352.25 L266.26,351.63 L266.59,351.02 L266.92,350.41 L267.26,349.81 L267.59,349.21 L267.93,348.62 L268.27,348.03 L268.61,347.45 L268.95,346.88 L269.29,346.31 L269.63,345.74 L269.98,345.19 L270.32,344.63 L270.67,344.08 L271.01,343.54 L271.36,343.00 L271.71,342.47 L272.06,341.94 L272.41,341.42 L272.76,340.90 L273.11,340.39 L273.47,339.88 L273.82,339.37 L274.18,338.87 L274.54,338.38 L274.90,337.89 L275.26,337.41 L275.62,336.93 L275.98,336.45 L276.34,335.98 L276.71,335.51 L277.07,335.05 L277.44,334.59 L277.81,334.14 L278.17,333.69 L278.54,333.25 L278.92,332.81 L279.29,332.37 L279.66,331.94 L280.04,331.51 L280.41,331.09 L280.79,330.67 L281.17,330.25 L281.54,329.84 L281.93,329.43 L282.31,329.03 L282.69,328.63 L283.07,328.24 L283.46,327.84 L283.85,327.45 L284.23,327.07 L284.62,326.69 L285.01,326.31 L285.40,325.94 L285.79,325.57 L286.19,325.20 L286.58,324.84 L286.98,324.48 L287.38,324.12 L287.77,323.77 L288.17,323.42 L288.58,323.08 L288.98,322.73 L289.38,322.39 L289.79,322.06 L290.19,321.73 L290.60,321.40 L291.01,321.07 L291.42,320.75 L291.83,320.43 L292.24,320.11 L292.65,319.80 L293.07,319.48 L293.49,319.18 L293.90,318.87 L294.32,318.57 L294.74,318.27 L295.16,317.97 L295.59,317.68 L296.01,317.39 L296.44,317.10 L296.86,316.81 L297.29,316.53 L297.72,316.25 L298.15,315.97 L298.58,315.69 L299.02,315.42 L299.45,315.15 L299.89,314.88 L300.32,314.62 L300.76,314.35 L301.20,314.09 L301.64,313.83 L302.09,313.58 L302.53,313.32 L302.98,313.07 L303.42,312.82 L303.87,312.58 L304.32,312.33 L304.77,312.09 L305.23,311.85 L305.68,311.61 L306.14,311.37 L306.59,311.14 L307.05,310.91 L307.51,310.68 L307.97,310.45 L308.43,310.23 L308.90,310.00 L309.36,309.78 L309.83,309.56 L310.30,309.35 L310.77,309.13 L311.24,308.92 L311.71,308.71 L312.19,308.50 L312.66,308.29 L313.14,308.09 L313.62,307.88 L314.10,307.68 L314.58,307.48 L315.06,307.29 L315.55,307.09 L316.03,306.90 L316.52,306.70 L317.01,306.51 L317.50,306.33 L317.99,306.14 L318.49,305.95 L318.98,305.77 L319.48,305.59 L319.98,305.41 L320.48,305.23 L320.98,305.06 L321.48,304.88 L321.99,304.71 L322.49,304.54 L323.00,304.37 L323.51,304.20 L324.02,304.03 L324.53,303.87 L325.05,303.70 L325.56,303.54 L326.08,303.38 L326.60,303.22 L327.12,303.06 L327.64,302.91 L328.16,302.75 L328.69,302.60 L329.22,302.45 L329.74,302.30 L330.27,302.15 L330.81,302.00 L331.34,301.86 L331.88,301.71 L332.41,301.57 L332.95,301.43 L333.49,301.28 L334.03,301.15 L334.58,301.01 L335.12,300.87 L335.67,300.73 L336.22,300.60 L336.77,300.47 L337.32,300.33 L337.87,300.20 L338.43,300.07 L338.99,299.94 L339.55,299.82 L340.11,299.69 L340.67,299.56 L341.23,299.44 L341.80,299.32 L342.37,299.19 L342.94,299.07 L343.51,298.95 L344.08,298.83 L344.65,298.72 L345.23,298.60 L345.81,298.48 L346.39,298.37 L346.97,298.25 L347.56,298.14 L348.14,298.03 L348.73,297.91 L349.32,297.80 L349.91,297.69 L350.50,297.58 L351.10,297.48 L351.69,297.37 L352.29,297.26 L352.89,297.16 L353.49,297.05 L354.10,296.95 L354.70,296.84 L355.31,296.74 L355.92,296.64 L356.53,296.54 L357.15,296.44 L357.76,296.34 L358.38,296.24 L359.00,296.14 L359.62,296.04 L360.24,295.94 L360.87,295.85 L361.50,295.75 L362.12,295.65 L362.76,295.56 L363.39,295.46 L364.02,295.37 L364.66,295.27 L365.30,295.18 L365.94,295.09 L366.58,295.00 L367.23,294.90 L367.87,294.81 L368.52,294.72 L369.17,294.63 L369.83,294.54 L370.48,294.45 L371.14,294.36 L371.80,294.27 L372.46,294.18 L373.12,294.09 L373.79,294.01 L374.45,293.92 L375.12,293.83 L375.79,293.74 L376.47,293.66 L377.14,293.57 L377.82,293.48 L378.50,293.39 L379.18,293.31 L379.87,293.22 L380.55,293.14 L381.24,293.05 L381.93,292.96 L382.62,292.88 L383.32,292.79 L384.01,292.71 L384.71,292.62 L385.41,292.54 L386.12,292.45 L386.82,292.37 L387.53,292.28 L388.24,292.20 L388.95,292.12 L389.67,292.03 L390.38,291.95 L391.10,291.87 L391.82,291.78 L392.55,291.70 L393.27,291.62 L394.00,291.54 L394.73,291.45 L395.46,291.37 L396.20,291.29 L396.93,291.21 L397.67,291.13 L398.41,291.05 L399.16,290.97 L399.90,290.89 L400.65,290.81 L401.40,290.73 L402.16,290.65 L402.91,290.57 L403.67,290.49 L404.43,290.41 L405.19,290.33 L405.96,290.26 L406.72,290.18 L407.49,290.10 L408.26,290.02 L409.04,289.95 L409.82,289.87 L410.59,289.80 L411.38,289.72 L412.16,289.65 L412.95,289.57 L413.74,289.50 L414.53,289.42 L415.32,289.35 L416.12,289.28 L416.92,289.21 L417.72,289.13 L418.52,289.06 L419.33,288.99 L420.14,288.92 L420.95,288.85 L421.76,288.78 L422.58,288.71 L423.40,288.64 L424.22,288.57 L425.04,288.50 L425.87,288.43 L426.70,288.37 L427.53,288.30 L428.36,288.23 L429.20,288.17 L430.04,288.10 L430.88,288.04 L431.73,287.97 L432.57,287.91 L433.42,287.84 L434.28,287.78 L435.13,287.72 L435.99,287.66 L436.85,287.59 L437.71,287.53 L438.58,287.47 L439.45,287.41 L440.32,287.35 L441.19,287.29 L442.07,287.24 L442.95,287.18 L443.83,287.12 L444.72,287.06 L445.60,287.01 L446.49,286.95 L447.39,286.90 L448.28,286.84 L449.18,286.79 L450.08,286.74 L450.99,286.68 L451.90,286.63 L452.81,286.58 L453.72,286.53 L454.63,286.48 L455.55,286.43 L456.47,286.38 L457.40,286.33 L458.32,286.28 L459.25,286.24 L460.19,286.19 L461.12,286.15 L462.06,286.10 L463.00,286.06 L463.95,286.01 L464.90,285.97 L465.85,285.93 L466.80,285.88 L467.76,285.84 L468.72,285.80 L469.68,285.76 L470.64,285.72 L471.61,285.68 L472.58,285.64 L473.56,285.60 L474.53,285.57 L475.51,285.53 L476.50,285.49 L477.48,285.46 L478.47,285.42 L479.47,285.38 L480.46,285.35 L481.46,285.31 L482.46,285.28 L483.47,285.25 L484.48,285.21 L485.49,285.18 L486.50,285.15 L487.52,285.12 L488.54,285.08 L489.56,285.05 L490.59,285.02 L491.62,284.99 L492.66,284.96 L493.69,284.93 L494.73,284.90 L495.78,284.87 L496.82,284.84 L497.87,284.81 L498.92,284.78 L499.98,284.75 L501.04,284.72 L502.10,284.70 L503.17,284.67 L504.24,284.64 L505.31,284.61 L506.39,284.58 L507.47,284.56 L508.55,284.53 L509.64,284.50 L510.72,284.48 L511.82,284.45 L512.91,284.42 L514.01,284.40 L515.12,284.37 L516.22,284.34 L517.33,284.32 L518.45,284.29 L519.56,284.26 L520.68,284.24 L521.81,284.21 L522.94,284.19 L524.07,284.16 L525.20,284.13 L526.34,284.11 L527.48,284.08 L528.63,284.06 L529.77,284.03 L530.93,284.00 L532.08,283.98 L533.24,283.95 L534.40,283.93 L535.57,283.90 L536.74,283.88 L537.91,283.85 L539.09,283.82 L540.27,283.80 L541.46,283.77 L542.65,283.75 L543.84,283.72 L545.03,283.70 L546.23,283.67 L547.44,283.65 L548.64,283.62 L549.85,283.60 L551.07,283.57 L552.29,283.55 L553.51,283.52 L554.74,283.50 L555.97,283.47 L557.20,283.45 L558.44,283.42 L559.68,283.40 L560.92,283.37 L562.17,283.35 L563.42,283.32 L564.68,283.30 L565.94,283.27 L567.21,283.25 L568.47,283.23 L569.75,283.20 L571.02,283.18 L572.30,283.15 L573.59,283.13 L574.88,283.11 L576.17,283.08 L577.47,283.06 L578.77,283.03 L580.07,283.01 L581.38,282.99 L582.69,282.96 L584.01,282.94 L585.33,282.92 L586.65,282.89 L587.98,282.87 L589.32,282.85 L590.65,282.82 L591.99,282.80 L593.34,282.78 L594.69,282.75 L596.04,282.73 L597.40,282.71 L598.76,282.69 L600.13,282.66 L601.50,282.64 L602.88,282.62 L604.26,282.60 L605.64,282.57 L607.03,282.55 L608.42,282.53 L609.82,282.51 L611.22,282.49 L612.62,282.46 L614.03,282.44 L615.45,282.42 L616.87,282.40 L618.29,282.38 L619.72,282.36 L621.15,282.33 L622.58,282.31 L624.02,282.29 L625.47,282.27 L626.92,282.25 L628.37,282.23 L629.83,282.21 L631.30,282.19 L632.76,282.17 L634.24,282.15 L635.71,282.13 L637.19,282.11 L638.68,282.09 L640.17,282.07 L641.67,282.05 L643.17,282.03 L644.67,282.01 L646.18,281.99 L647.69,281.97 L649.21,281.95 L650.74,281.93 L652.26,281.91 L653.80,281.89 L655.34,281.87 L656.88,281.85 L658.43,281.83 L659.98,281.81 L661.53,281.80 L663.10,281.78 L664.66,281.76 L666.23,281.74 L667.81,281.72 L669.39,281.70 L670.98,281.69 L672.57,281.67 L674.17,281.65 L675.77,281.63 L677.37,281.61 L678.98,281.60 L680.60,281.58 L682.22,281.56 L683.85,281.55 L685.48,281.53 L687.11,281.51 L688.76,281.50 L690.40,281.48 L692.05,281.46 L693.71,281.45 L695.37,281.43 L697.04,281.41 L698.71,281.40 L700.39,281.38 L702.07,281.37 L703.76,281.35 L705.45,281.33 L707.15,281.32 L708.85,281.30 L710.56,281.29 L712.28,281.27 L714.00,281.26 L715.72,281.24 L717.45,281.23 L719.19,281.22 L720.93,281.20 L722.67,281.19 L724.43,281.17 L726.18,281.16 L727.95,281.15 L729.71,281.13 L731.49,281.12 L733.27,281.11 L735.05,281.09 L736.84,281.08 L738.64,281.07 L740.44,281.05 L742.25,281.04 L744.06,281.03 L745.88,281.02 L747.70,281.00 L749.53,280.99 L751.37,280.98 L753.21,280.97 L755.06,280.96 L756.91,280.94 L758.77,280.93 L760.63,280.92 L762.50,280.91 L764.38,280.90 L766.26,280.89 L768.14,280.88 L770.04,280.87 L771.94,280.86 L773.84,280.85 L775.75,280.84 L777.67,280.83 L779.59,280.82 L781.52,280.81 L783.46,280.80 L785.40,280.79 L787.34,280.78 L789.30,280.77 L791.26,280.76 L793.22,280.76 L795.19,280.75 L797.17,280.74 L799.15,280.73 L801.14,280.72 L803.14,280.72 L805.14,280.71 L807.15,280.70 L809.16,280.69 L811.18,280.69 L813.21,280.68 L815.24,280.67 L817.28,280.67 L819.33,280.66 L821.38,280.65 L823.44,280.65 L825.51,280.64 L827.58,280.64 L829.66,280.63 L831.74,280.63 L833.83,280.62 L835.93,280.61 L838.03,280.61 L840.14,280.61 L842.26,280.60 L844.38,280.60 L846.51,280.59 L848.65,280.59 L850.80,280.58 L852.95,280.58 L855.10,280.57 L857.27,280.57 L859.44,280.57 L861.61,280.56 L863.80,280.56 L865.99,280.55 L868.19,280.55 L870.39,280.55 L872.60,280.54 L874.82,280.54 L877.04,280.54 L879.28,280.53 L881.51,280.53 L883.76,280.52 L886.01,280.52 L888.27,280.52 L890.54,280.51 L892.81,280.51 L895.09,280.51 L897.38,280.50 L899.68,280.50 L901.98,280.50 L904.29,280.49 L906.60,280.49 L908.93,280.48 L911.26,280.48 L913.60,280.48 L915.94,280.47 L918.30,280.47 L920.66,280.46 L923.02,280.46 L925.40,280.46 L927.78,280.45 L930.17,280.45 L932.57,280.44 L934.97,280.44 L937.38,280.43 L939.80,280.43 L942.23,280.42 L944.66,280.42 L947.11,280.41 L949.56,280.41 L952.01,280.40 L954.48,280.39 L956.95,280.39 L959.43,280.38 L961.92,280.38 L964.41,280.37 L966.92,280.36 L969.43,280.36 L971.95,280.35 L974.47,280.34 L977.01,280.33 L979.55,280.33 L982.10,280.32 L984.66,280.31 L987.23,280.30 L989.80,280.29 L992.38,280.29 L994.97,280.28 L997.57,280.27 L1000.18,280.26 L1002.79,280.25 L1005.42,280.24 L1008.05,280.23 L1010.69,280.22 L1013.33,280.21 L1015.99,280.19 L1018.65,280.18 L1021.33,280.17 L1024.01,280.16 L1026.69,280.15 L1029.39,280.13 L1032.10,280.12 L1034.81,280.11 L1037.53,280.09 L1040.26,280.08 L1043.00,280.07 L1045.75,280.05 L1048.51,280.04 L1051.27,280.02 L1054.05,280.00 L1056.83,279.99 L1059.62,279.97 L1062.42,279.96 L1065.23,279.94 L1068.04,279.92 L1070.87,279.90 L1073.70,279.88 L1076.55,279.86 L1079.40,279.85 L1082.26,279.83 L1085.13,279.81 L1088.01,279.79 L1090.90,279.76 L1093.79,279.74 L1096.70,279.72 L1099.61,279.70 L1102.54,279.68 L1105.47,279.65 L1108.41,279.63 L1111.36,279.60 L1114.32,279.58 L1117.29,279.55 L1120.27,279.53 L1123.26,279.50 L1126.26,279.48 L1129.26,279.45 L1132.28,279.42 L1135.30,279.39 L1138.34,279.36 L1141.38,279.33 L1144.44,279.31 L1147.50,279.27 L1469.90,279.30" stroke="#808080"/>
</g>
<line x1="1176.80" y1="995.0" x2="1176.80" y2="164.5" stroke="#000" stroke-width="4.5" stroke-dasharray="8.6 8.49"/>
<g stroke="#161616" stroke-width="1.3" fill="none">
<rect x="146.95" y="163.7" width="1347.55" height="832.7"/>
<path d="M159.20,996.4v-12.4M159.20,163.7v12M231.88,996.4v-7.4M231.88,163.7v7M304.55,996.4v-7.4M304.55,163.7v7M377.23,996.4v-7.4M377.23,163.7v7M449.90,996.4v-12.4M449.90,163.7v12M522.58,996.4v-7.4M522.58,163.7v7M595.25,996.4v-7.4M595.25,163.7v7M667.92,996.4v-7.4M667.92,163.7v7M740.60,996.4v-12.4M740.60,163.7v12M813.28,996.4v-7.4M813.28,163.7v7M885.95,996.4v-7.4M885.95,163.7v7M958.62,996.4v-7.4M958.62,163.7v7M1031.30,996.4v-12.4M1031.30,163.7v12M1103.97,996.4v-7.4M1103.97,163.7v7M1176.65,996.4v-7.4M1176.65,163.7v7M1249.33,996.4v-7.4M1249.33,163.7v7M1322.00,996.4v-12.4M1322.00,163.7v12M1394.67,996.4v-7.4M1394.67,163.7v7M1467.35,996.4v-7.4M1467.35,163.7v7M146.95,980.05h7M1494.5,980.05h-7M146.95,954.50h12M1494.5,954.50h-12M146.95,928.95h7M1494.5,928.95h-7M146.95,903.40h7M1494.5,903.40h-7M146.95,877.85h7M1494.5,877.85h-7M146.95,852.30h7M1494.5,852.30h-7M146.95,826.75h12M1494.5,826.75h-12M146.95,801.20h7M1494.5,801.20h-7M146.95,775.65h7M1494.5,775.65h-7M146.95,750.10h7M1494.5,750.10h-7M146.95,724.55h7M1494.5,724.55h-7M146.95,699.00h12M1494.5,699.00h-12M146.95,673.45h7M1494.5,673.45h-7M146.95,647.90h7M1494.5,647.90h-7M146.95,622.35h7M1494.5,622.35h-7M146.95,596.80h7M1494.5,596.80h-7M146.95,571.25h12M1494.5,571.25h-12M146.95,545.70h7M1494.5,545.70h-7M146.95,520.15h7M1494.5,520.15h-7M146.95,494.60h7M1494.5,494.60h-7M146.95,469.05h7M1494.5,469.05h-7M146.95,443.50h12M1494.5,443.50h-12M146.95,417.95h7M1494.5,417.95h-7M146.95,392.40h7M1494.5,392.40h-7M146.95,366.85h7M1494.5,366.85h-7M146.95,341.30h7M1494.5,341.30h-7M146.95,315.75h12M1494.5,315.75h-12M146.95,290.20h7M1494.5,290.20h-7M146.95,264.65h7M1494.5,264.65h-7M146.95,239.10h7M1494.5,239.10h-7M146.95,213.55h7M1494.5,213.55h-7M146.95,188.00h12M1494.5,188.00h-12"/>
</g>
<g font-family="Liberation Sans, sans-serif" font-size="32px" fill="#000">
<text transform="translate(159.20 1031.55) scale(1 1.022)" text-anchor="middle">0</text>
<text transform="translate(449.90 1031.55) scale(1 1.022)" text-anchor="middle">20</text>
<text transform="translate(740.60 1031.55) scale(1 1.022)" text-anchor="middle">40</text>
<text transform="translate(1031.30 1031.55) scale(1 1.022)" text-anchor="middle">60</text>
<text transform="translate(1322.00 1031.55) scale(1 1.022)" text-anchor="middle">80</text>
<text transform="translate(140.6 965.65) scale(1 1.022)" text-anchor="end">0.00</text>
<text transform="translate(140.6 837.90) scale(1 1.022)" text-anchor="end">0.05</text>
<text transform="translate(140.6 710.15) scale(1 1.022)" text-anchor="end">0.10</text>
<text transform="translate(140.6 582.40) scale(1 1.022)" text-anchor="end">0.15</text>
<text transform="translate(140.6 454.65) scale(1 1.022)" text-anchor="end">0.20</text>
<text transform="translate(140.6 326.90) scale(1 1.022)" text-anchor="end">0.25</text>
<text transform="translate(140.6 199.15) scale(1 1.022)" text-anchor="end">0.30</text>
</g>
<rect x="185.6" y="4.5" width="1123.5" height="144.7" rx="10.5" ry="10.5" fill="#fff" stroke="#000" stroke-width="3.2"/>
<rect x="197.80" y="81.30" width="43.00" height="4.60" fill="#000"/>
<rect x="387.60" y="81.30" width="42.60" height="4.60" fill="#00aa00"/>
<rect x="681.60" y="81.30" width="42.60" height="4.60" fill="#ff8000"/>
<rect x="974.90" y="81.30" width="42.40" height="4.60" fill="#808080"/>
<rect x="262.20" y="83.00" width="22.10" height="1.40" fill="#000"/>
<text transform="matrix(0.08034 0 0 0.09375 288.300 93.425)" font-family="Liberation Serif, serif" font-style="italic" font-size="400px" fill="#000">e</text>
<text transform="matrix(0.06410 0 0 0.06221 306.221 78.400)" font-family="Liberation Serif, serif" font-style="italic" font-size="400px" fill="#000">H</text>
<path transform="translate(338.74 85.02) skewX(-12.5)" fill-rule="evenodd" fill="#000" d="M-9.16,0 A9.16,8.44 0 1 1 9.16,0 A9.16,8.44 0 1 1 -9.16,0 Z M-6.81,0 A6.81,7.44 0 1 1 6.81,0 A6.81,7.44 0 1 1 -6.81,0 Z"/><line x1="342.67" y1="68.10" x2="335.02" y2="100.20" stroke="#000" stroke-width="1.15"/>
<path d="M353.17,65.00 Q355.25,64.10 355.90,66.30 L350.30,76.80 L349.40,76.30 Z" fill="#000"/>
<text transform="matrix(0.06667 0 0 0.06696 349.200 101.932)" font-family="Liberation Serif, serif" font-style="italic" font-size="400px" fill="#000">t</text>
<rect x="452.20" y="83.00" width="21.80" height="1.40" fill="#000"/>
<text transform="matrix(0.10398 0 0 0.09427 478.912 93.500)" font-family="Liberation Serif, serif" font-style="italic" font-size="400px" fill="#000" stroke="#fff" stroke-width="6.05">F</text>
<text transform="matrix(0.08090 0 0 0.09375 506.000 93.425)" font-family="Liberation Serif, serif" font-style="italic" font-size="400px" fill="#000">e</text>
<rect x="523.50" y="71.35" width="15.90" height="1.30" fill="#000"/>
<text transform="matrix(0.05769 0 0 0.06260 542.188 78.500)" font-family="Liberation Serif, serif" font-style="italic" font-size="400px" fill="#000">H</text>
<rect x="564.60" y="71.00" width="16.10" height="1.30" fill="#000"/><rect x="572.00" y="63.30" width="1.30" height="16.70" fill="#000"/>
<text transform="matrix(0.05200 0 0 0.06151 583.800 78.300)" font-family="Liberation Serif, serif" font-style="normal" font-size="400px" fill="#000">2</text>
<text transform="matrix(0.06851 0 0 0.06431 594.800 78.543)" font-family="Liberation Serif, serif" font-style="italic" font-size="400px" fill="#000">G</text>
<path transform="translate(627.60 85.02) skewX(-12.5)" fill-rule="evenodd" fill="#000" d="M-9.30,0 A9.30,8.44 0 1 1 9.30,0 A9.30,8.44 0 1 1 -9.30,0 Z M-6.95,0 A6.95,7.44 0 1 1 6.95,0 A6.95,7.44 0 1 1 -6.95,0 Z"/><line x1="631.59" y1="68.10" x2="623.82" y2="100.20" stroke="#000" stroke-width="1.15"/>
<path d="M642.35,65.30 Q644.37,64.40 645.00,66.60 L639.60,77.00 L638.70,76.50 Z" fill="#000"/>
<text transform="matrix(0.07049 0 0 0.06196 638.352 102.400)" font-family="Liberation Serif, serif" font-style="italic" font-size="400px" fill="#000">x</text>
<rect x="746.40" y="83.00" width="21.80" height="1.40" fill="#000"/>
<text transform="matrix(0.10398 0 0 0.09427 773.112 93.500)" font-family="Liberation Serif, serif" font-style="italic" font-size="400px" fill="#000" stroke="#fff" stroke-width="6.05">F</text>
<text transform="matrix(0.08090 0 0 0.09375 800.200 93.425)" font-family="Liberation Serif, serif" font-style="italic" font-size="400px" fill="#000">e</text>
<rect x="817.70" y="71.35" width="15.90" height="1.30" fill="#000"/>
<text transform="matrix(0.05769 0 0 0.06260 836.388 78.500)" font-family="Liberation Serif, serif" font-style="italic" font-size="400px" fill="#000">H</text>
<rect x="859.00" y="71.35" width="16.10" height="1.30" fill="#000"/>
<text transform="matrix(0.05200 0 0 0.06151 878.000 78.300)" font-family="Liberation Serif, serif" font-style="normal" font-size="400px" fill="#000">2</text>
<text transform="matrix(0.06851 0 0 0.06431 889.000 78.543)" font-family="Liberation Serif, serif" font-style="italic" font-size="400px" fill="#000">G</text>
<path transform="translate(921.80 85.02) skewX(-12.5)" fill-rule="evenodd" fill="#000" d="M-9.30,0 A9.30,8.44 0 1 1 9.30,0 A9.30,8.44 0 1 1 -9.30,0 Z M-6.95,0 A6.95,7.44 0 1 1 6.95,0 A6.95,7.44 0 1 1 -6.95,0 Z"/><line x1="925.79" y1="68.10" x2="918.02" y2="100.20" stroke="#000" stroke-width="1.15"/>
<path d="M936.55,65.30 Q938.57,64.40 939.20,66.60 L933.80,77.00 L932.90,76.50 Z" fill="#000"/>
<text transform="matrix(0.05660 0 0 0.05778 934.425 100.831)" font-family="Liberation Serif, serif" font-style="italic" font-size="400px" fill="#000">y</text>
<text transform="matrix(0.08300 0 0 0.09094 1037.400 93.100)" font-family="Liberation Serif, serif" font-style="normal" font-size="400px" fill="#000">2</text>
<line x1="1057.9" y1="88.9" x2="1062.7" y2="80.0" stroke="#000" stroke-width="1.25"/>
<path d="M1060.9,81.9 L1063.0,78.9 L1064.4,79.5 L1071.1,125.5 L1070.9,132.6 L1069.4,132.6 Z" fill="#000"/>
<path d="M1069.6,131.0 L1089.2,25.1 L1293.0,25.1 L1293.0,26.8 L1090.5,26.8 L1070.9,132.6 L1069.8,132.6 Z" fill="#000"/>
<text transform="matrix(0.08202 0 0 0.09583 1091.000 93.617)" font-family="Liberation Serif, serif" font-style="italic" font-size="400px" fill="#000">e</text>
<text transform="matrix(0.06506 0 0 0.06336 1108.125 83.100)" font-family="Liberation Serif, serif" font-style="italic" font-size="400px" fill="#000">H</text>
<path d="M1161.40,41.20 L1158.71,44.09 L1156.22,47.15 L1153.92,50.37 L1151.85,53.72 L1150.00,57.21 L1148.37,60.81 L1146.99,64.50 L1145.85,68.28 L1144.95,72.13 L1144.31,76.03 L1143.93,79.95 L1143.80,83.90 L1143.93,87.85 L1144.31,91.77 L1144.95,95.67 L1145.85,99.52 L1146.99,103.30 L1148.37,106.99 L1150.00,110.59 L1151.85,114.08 L1153.92,117.43 L1156.22,120.65 L1158.71,123.71 L1161.40,126.60 L1162.30,126.10 L1159.93,123.11 L1157.73,119.98 L1155.72,116.73 L1153.90,113.37 L1152.28,109.91 L1150.87,106.36 L1149.67,102.74 L1148.67,99.05 L1147.90,95.30 L1147.35,91.52 L1147.01,87.72 L1146.90,83.90 L1147.01,80.08 L1147.35,76.28 L1147.90,72.50 L1148.67,68.75 L1149.67,65.06 L1150.87,61.44 L1152.28,57.89 L1153.90,54.43 L1155.72,51.07 L1157.73,47.82 L1159.93,44.69 L1162.30,41.70 Z" fill="#000"/>
<path d="M1259.20,41.20 L1261.86,44.10 L1264.33,47.17 L1266.59,50.40 L1268.65,53.76 L1270.48,57.25 L1272.08,60.85 L1273.45,64.54 L1274.58,68.31 L1275.46,72.15 L1276.09,76.04 L1276.47,79.96 L1276.60,83.90 L1276.47,87.84 L1276.09,91.76 L1275.46,95.65 L1274.58,99.49 L1273.45,103.26 L1272.08,106.95 L1270.48,110.55 L1268.65,114.04 L1266.59,117.40 L1264.33,120.63 L1261.86,123.70 L1259.20,126.60 L1258.30,126.10 L1260.65,123.09 L1262.81,119.96 L1264.80,116.70 L1266.59,113.34 L1268.19,109.88 L1269.58,106.33 L1270.77,102.70 L1271.75,99.02 L1272.51,95.28 L1273.06,91.51 L1273.39,87.71 L1273.50,83.90 L1273.39,80.09 L1273.06,76.29 L1272.51,72.52 L1271.75,68.78 L1270.77,65.10 L1269.58,61.47 L1268.19,57.92 L1266.59,54.46 L1264.80,51.10 L1262.81,47.84 L1260.65,44.71 L1258.30,41.70 Z" fill="#000"/>
<text transform="matrix(0.08034 0 0 0.09115 1167.400 69.335)" font-family="Liberation Serif, serif" font-style="italic" font-size="400px" fill="#000">e</text>
<rect x="1185.10" y="52.05" width="15.10" height="1.30" fill="#000"/>
<text transform="matrix(0.06410 0 0 0.06374 1203.421 58.600)" font-family="Liberation Serif, serif" font-style="italic" font-size="400px" fill="#000">H</text>
<text transform="matrix(0.10279 0 0 0.09580 1228.208 69.400)" font-family="Liberation Serif, serif" font-style="italic" font-size="400px" fill="#000" stroke="#fff" stroke-width="6.04">F</text>
<rect x="1165.70" y="83.15" width="88.80" height="1.50" fill="#000"/>
<g transform="matrix(15.200 0 0 17.400 1195.700 100.800)" fill="#000"><path d="M0.211,0.275 C0.215,0.16 0.36,0.0 0.47,0.003 C0.60,0.0 0.64,0.165 0.79,0.162 C0.86,0.16 0.92,0.06 0.955,0.0 L1.0,0.03 C0.93,0.16 0.85,0.235 0.77,0.228 C0.66,0.225 0.57,0.14 0.46,0.143 C0.36,0.145 0.29,0.22 0.245,0.285 Z"/><path d="M0.20,0.80 C0.27,0.74 0.33,0.76 0.385,0.782 C0.45,0.81 0.50,0.84 0.57,0.84 C0.70,0.84 0.80,0.72 0.845,0.64 C0.86,0.615 0.90,0.61 0.92,0.645 C0.86,0.85 0.70,0.985 0.545,0.985 C0.44,0.985 0.40,0.83 0.29,0.825 C0.25,0.825 0.22,0.84 0.185,0.86 Z"/></g><line x1="1210.52" y1="101.15" x2="1196.08" y2="117.85" stroke="#000" stroke-width="0.87"/>
<text transform="matrix(0.05750 0 0 0.06208 1212.500 108.252)" font-family="Liberation Serif, serif" font-style="normal" font-size="400px" fill="#000">3</text>
<path d="M1287.95,37.60 Q1289.97,36.70 1290.60,38.90 L1285.20,49.60 L1284.30,49.10 Z" fill="#000"/>
<text transform="matrix(0 -0.13934 0.12252 0 42.800 597.749)" font-family="Liberation Serif, serif" font-style="italic" font-size="400px" fill="#000">X</text>
<g transform="matrix(19.700 0 0 21.350 810.900 1075.700)" fill="#000"><path d="M0.211,0.275 C0.215,0.16 0.36,0.0 0.47,0.003 C0.60,0.0 0.64,0.165 0.79,0.162 C0.86,0.16 0.92,0.06 0.955,0.0 L1.0,0.03 C0.93,0.16 0.85,0.235 0.77,0.228 C0.66,0.225 0.57,0.14 0.46,0.143 C0.36,0.145 0.29,0.22 0.245,0.285 Z"/><path d="M0.20,0.80 C0.27,0.74 0.33,0.76 0.385,0.782 C0.45,0.81 0.50,0.84 0.57,0.84 C0.70,0.84 0.80,0.72 0.845,0.64 C0.86,0.615 0.90,0.61 0.92,0.645 C0.86,0.85 0.70,0.985 0.545,0.985 C0.44,0.985 0.40,0.83 0.29,0.825 C0.25,0.825 0.22,0.84 0.185,0.86 Z"/></g><line x1="830.11" y1="1076.13" x2="811.39" y2="1096.62" stroke="#000" stroke-width="1.07"/>
</svg>
</body></html>
